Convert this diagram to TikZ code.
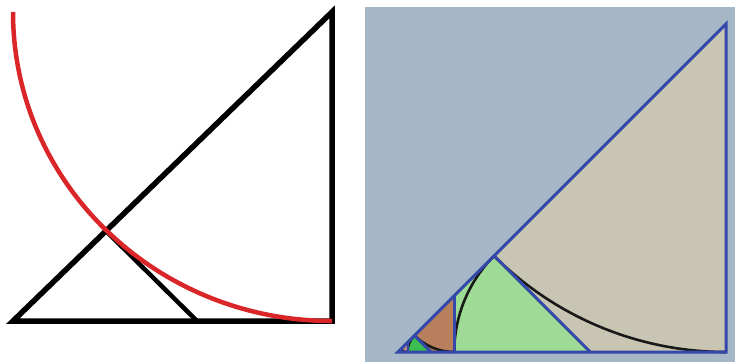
\documentclass[tikz,border=0pt]{standalone}
\begin{document}
\begin{tikzpicture}[x=1pt,y=1pt,line join=miter,
  blackline/.style={draw=black,line width=5.5pt},
  redarc/.style={draw=redc,line width=4.5pt},
  blueline/.style={draw=bluec,line width=3pt},
  thinarc/.style={draw=black!90,line width=2.6pt}]
\definecolor{redc}{RGB}{218,38,40}
\definecolor{bluec}{RGB}{52,72,170}
\definecolor{bgc}{RGB}{165,183,199}
\definecolor{beigec}{RGB}{200,197,178}
\definecolor{lgreenc}{RGB}{158,220,150}
\definecolor{brownc}{RGB}{184,128,92}
\definecolor{greenc}{RGB}{60,190,82}
\definecolor{pinkc}{RGB}{196,136,128}
\useasboundingbox (0,0) rectangle (735,362);
\fill[white] (0,0) rectangle (735,362);
% ---------- left panel ----------
\coordinate (LA) at (13,41);
\coordinate (LB) at (332,41);
\coordinate (LT) at (332,350);
\coordinate (LM) at (106,131);
\coordinate (LF) at (197,41);
\coordinate (LS) at (13,350);
\draw[blackline] (LA) -- (LB) -- (LT) -- cycle;
\draw[blackline,line width=4.5pt] (LM) -- (LF);
\draw[redarc] (LS) arc[start angle=180,end angle=270,x radius=319,y radius=309];
% ---------- right panel ----------
\fill[bgc] (365,0) rectangle (735,355);
\coordinate (A) at (398,10);
\coordinate (B) at (726,10);
\coordinate (T) at (726,338);
\coordinate (P1) at (494.07,106.07);
\coordinate (Q1) at (590.14,10);
\coordinate (P2) at (454.27,10);
\coordinate (Q2) at (454.27,66.27);
\coordinate (P3) at (414.48,26.48);
\coordinate (Q3) at (430.96,10);
\coordinate (P4) at (407.65,10);
\coordinate (Q4) at (407.65,19.65);
\fill[beigec] (A) -- (B) -- (T) -- cycle;
\fill[lgreenc] (A) -- (P1) -- (Q1) -- cycle;
\fill[brownc] (A) -- (Q2) -- (P2) -- cycle;
\fill[greenc] (A) -- (P3) -- (Q3) -- cycle;
\fill[pinkc] (A) -- (Q4) -- (P4) -- cycle;
\draw[thinarc] (P1) arc[start angle=225,end angle=270,radius=328];
\draw[thinarc] (P1) arc[start angle=135,end angle=180,radius=135.87];
\draw[thinarc] (P2) arc[start angle=270,end angle=225,radius=56.27];
\draw[thinarc,line width=2.2pt] (P3) arc[start angle=135,end angle=180,radius=23.31];
\draw[thinarc,line width=1.6pt] (P4) arc[start angle=270,end angle=225,radius=9.65];
\draw[blueline] (P1) -- (Q1);
\draw[blueline] (P2) -- (Q2);
\draw[blueline] (P3) -- (Q3);
\draw[blueline,line width=2.2pt] (P4) -- (Q4);
\draw[blueline] (A) -- (B) -- (T) -- cycle;
\end{tikzpicture}
\end{document}
